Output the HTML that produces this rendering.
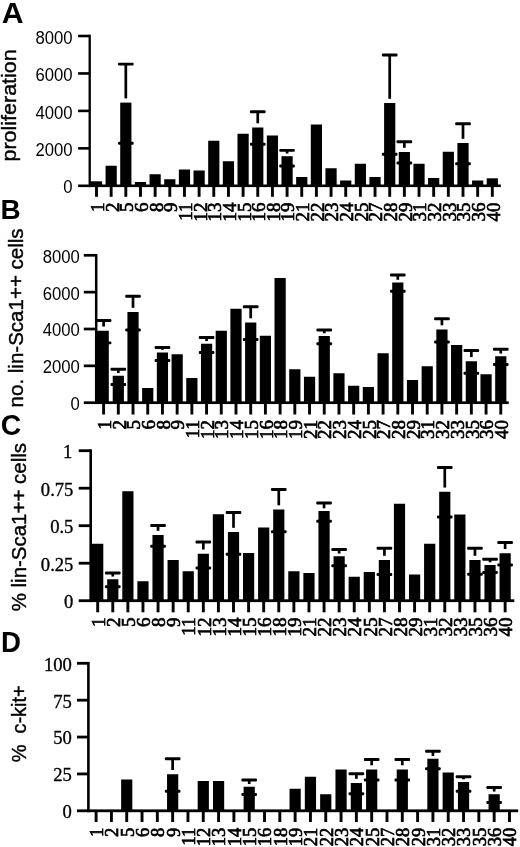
<!DOCTYPE html>
<html lang="en">
<head>
<meta charset="utf-8">
<title>Figure: proliferation, lin-Sca1++ and c-kit+ bar charts</title>
<style>
html,body{margin:0;padding:0;background:#fff;}
body{width:520px;height:847px;overflow:hidden;}
svg{display:block;}
rect{fill:#000;}
text{fill:#000;}
.ys{font-family:"Liberation Sans",sans-serif;font-size:16.7px;}
.yt{font-family:"Liberation Serif",serif;font-size:19.4px;stroke:#000;stroke-width:0.35px;}
.xl{font-family:"Liberation Serif",serif;stroke:#000;stroke-width:0.7px;}
.pl{font-family:"Liberation Sans",sans-serif;font-weight:bold;}
.ttl{font-family:"Liberation Sans",sans-serif;font-size:20.6px;stroke:#000;stroke-width:0.4px;}
</style>
</head>
<body>
<svg width="520" height="847" viewBox="0 0 520 847">
<rect x="0" y="0" width="520" height="847" style="fill:#fff"/>
<g id="figure" style="filter:blur(0.45px)">
<g id="panelA">
<rect x="88.55" y="34.70" width="2.30" height="152.40"/>
<rect x="78.10" y="34.70" width="11.60" height="2.60"/>
<rect x="78.10" y="72.15" width="11.60" height="2.60"/>
<rect x="78.10" y="109.60" width="11.60" height="2.60"/>
<rect x="78.10" y="147.05" width="11.60" height="2.60"/>
<rect x="78.10" y="184.50" width="422.70" height="2.60"/>
<rect x="95.05" y="185.80" width="2.90" height="11.00"/>
<rect x="109.71" y="185.80" width="2.90" height="11.00"/>
<rect x="124.37" y="185.80" width="2.90" height="11.00"/>
<rect x="139.03" y="185.80" width="2.90" height="11.00"/>
<rect x="153.69" y="185.80" width="2.90" height="11.00"/>
<rect x="168.35" y="185.80" width="2.90" height="11.00"/>
<rect x="183.01" y="185.80" width="2.90" height="11.00"/>
<rect x="197.67" y="185.80" width="2.90" height="11.00"/>
<rect x="212.33" y="185.80" width="2.90" height="11.00"/>
<rect x="226.99" y="185.80" width="2.90" height="11.00"/>
<rect x="241.65" y="185.80" width="2.90" height="11.00"/>
<rect x="256.31" y="185.80" width="2.90" height="11.00"/>
<rect x="270.97" y="185.80" width="2.90" height="11.00"/>
<rect x="285.63" y="185.80" width="2.90" height="11.00"/>
<rect x="300.29" y="185.80" width="2.90" height="11.00"/>
<rect x="314.95" y="185.80" width="2.90" height="11.00"/>
<rect x="329.61" y="185.80" width="2.90" height="11.00"/>
<rect x="344.27" y="185.80" width="2.90" height="11.00"/>
<rect x="358.93" y="185.80" width="2.90" height="11.00"/>
<rect x="373.59" y="185.80" width="2.90" height="11.00"/>
<rect x="388.25" y="185.80" width="2.90" height="11.00"/>
<rect x="402.91" y="185.80" width="2.90" height="11.00"/>
<rect x="417.57" y="185.80" width="2.90" height="11.00"/>
<rect x="432.23" y="185.80" width="2.90" height="11.00"/>
<rect x="446.89" y="185.80" width="2.90" height="11.00"/>
<rect x="461.55" y="185.80" width="2.90" height="11.00"/>
<rect x="476.21" y="185.80" width="2.90" height="11.00"/>
<rect x="490.87" y="185.80" width="2.90" height="11.00"/>
<rect x="89.70" y="181.30" width="12.40" height="4.50"/>
<rect x="105.56" y="165.75" width="11.20" height="20.05"/>
<rect x="118.02" y="62.80" width="15.60" height="2.80" rx="1"/>
<rect x="124.47" y="64.20" width="2.70" height="34.20"/>
<rect x="118.02" y="141.85" width="15.60" height="2.80" rx="1"/>
<rect x="120.22" y="102.60" width="11.20" height="83.20"/>
<rect x="134.88" y="182.00" width="11.20" height="3.80"/>
<rect x="149.54" y="174.25" width="11.20" height="11.55"/>
<rect x="164.20" y="179.25" width="11.20" height="6.55"/>
<rect x="178.86" y="169.50" width="11.20" height="16.30"/>
<rect x="193.52" y="170.50" width="11.20" height="15.30"/>
<rect x="208.18" y="140.75" width="11.20" height="45.05"/>
<rect x="222.84" y="161.25" width="11.20" height="24.55"/>
<rect x="237.50" y="133.75" width="11.20" height="52.05"/>
<rect x="249.96" y="110.35" width="15.60" height="2.80" rx="1"/>
<rect x="256.41" y="111.75" width="2.70" height="11.55"/>
<rect x="249.96" y="142.85" width="15.60" height="2.80" rx="1"/>
<rect x="252.16" y="127.50" width="11.20" height="58.30"/>
<rect x="266.82" y="135.50" width="11.20" height="50.30"/>
<rect x="279.28" y="148.95" width="15.60" height="2.80" rx="1"/>
<rect x="285.73" y="150.35" width="2.70" height="3.15"/>
<rect x="279.28" y="164.60" width="15.60" height="2.80" rx="1"/>
<rect x="281.48" y="156.20" width="11.20" height="29.60"/>
<rect x="296.14" y="177.00" width="11.20" height="8.80"/>
<rect x="310.80" y="124.50" width="11.20" height="61.30"/>
<rect x="325.46" y="168.25" width="11.20" height="17.55"/>
<rect x="340.12" y="180.50" width="11.20" height="5.30"/>
<rect x="354.78" y="163.75" width="11.20" height="22.05"/>
<rect x="369.44" y="177.00" width="11.20" height="8.80"/>
<rect x="381.90" y="53.60" width="15.60" height="2.80" rx="1"/>
<rect x="388.35" y="55.00" width="2.70" height="43.80"/>
<rect x="381.90" y="152.85" width="15.60" height="2.80" rx="1"/>
<rect x="384.10" y="103.00" width="11.20" height="82.80"/>
<rect x="396.56" y="140.35" width="15.60" height="2.80" rx="1"/>
<rect x="403.01" y="141.75" width="2.70" height="6.05"/>
<rect x="396.56" y="161.60" width="15.60" height="2.80" rx="1"/>
<rect x="398.76" y="152.00" width="11.20" height="33.80"/>
<rect x="413.42" y="163.75" width="11.20" height="22.05"/>
<rect x="428.08" y="178.00" width="11.20" height="7.80"/>
<rect x="442.74" y="151.75" width="11.20" height="34.05"/>
<rect x="455.20" y="122.35" width="15.60" height="2.80" rx="1"/>
<rect x="461.65" y="123.75" width="2.70" height="15.05"/>
<rect x="455.20" y="162.35" width="15.60" height="2.80" rx="1"/>
<rect x="457.40" y="143.00" width="11.20" height="42.80"/>
<rect x="472.06" y="180.50" width="11.20" height="5.30"/>
<rect x="486.72" y="178.30" width="11.20" height="7.50"/>
<text class="ys" text-anchor="end" transform="translate(72.60,43.60) scale(1,1.13)">8000</text>
<text class="ys" text-anchor="end" transform="translate(72.60,81.05) scale(1,1.13)">6000</text>
<text class="ys" text-anchor="end" transform="translate(72.60,118.50) scale(1,1.13)">4000</text>
<text class="ys" text-anchor="end" transform="translate(72.60,155.95) scale(1,1.13)">2000</text>
<text class="ys" text-anchor="end" transform="translate(72.60,193.40) scale(1,1.13)">0</text>
<text class="xl" font-size="19.5" text-anchor="end" transform="translate(103.90,202.50) rotate(-90) scale(0.97,1)">1</text>
<text class="xl" font-size="19.5" text-anchor="end" transform="translate(118.56,202.50) rotate(-90) scale(0.97,1)">2</text>
<text class="xl" font-size="19.5" text-anchor="end" transform="translate(133.22,202.50) rotate(-90) scale(0.97,1)">5</text>
<text class="xl" font-size="19.5" text-anchor="end" transform="translate(147.88,202.50) rotate(-90) scale(0.97,1)">6</text>
<text class="xl" font-size="19.5" text-anchor="end" transform="translate(162.54,202.50) rotate(-90) scale(0.97,1)">8</text>
<text class="xl" font-size="19.5" text-anchor="end" transform="translate(177.20,202.50) rotate(-90) scale(0.97,1)">9</text>
<text class="xl" font-size="19.5" text-anchor="end" transform="translate(191.86,202.50) rotate(-90) scale(0.97,1)">11</text>
<text class="xl" font-size="19.5" text-anchor="end" transform="translate(206.52,202.50) rotate(-90) scale(0.97,1)">12</text>
<text class="xl" font-size="19.5" text-anchor="end" transform="translate(221.18,202.50) rotate(-90) scale(0.97,1)">13</text>
<text class="xl" font-size="19.5" text-anchor="end" transform="translate(235.84,202.50) rotate(-90) scale(0.97,1)">14</text>
<text class="xl" font-size="19.5" text-anchor="end" transform="translate(250.50,202.50) rotate(-90) scale(0.97,1)">15</text>
<text class="xl" font-size="19.5" text-anchor="end" transform="translate(265.16,202.50) rotate(-90) scale(0.97,1)">16</text>
<text class="xl" font-size="19.5" text-anchor="end" transform="translate(279.82,202.50) rotate(-90) scale(0.97,1)">18</text>
<text class="xl" font-size="19.5" text-anchor="end" transform="translate(294.48,202.50) rotate(-90) scale(0.97,1)">19</text>
<text class="xl" font-size="19.5" text-anchor="end" transform="translate(309.14,202.50) rotate(-90) scale(0.97,1)">21</text>
<text class="xl" font-size="19.5" text-anchor="end" transform="translate(323.80,202.50) rotate(-90) scale(0.97,1)">22</text>
<text class="xl" font-size="19.5" text-anchor="end" transform="translate(338.46,202.50) rotate(-90) scale(0.97,1)">23</text>
<text class="xl" font-size="19.5" text-anchor="end" transform="translate(353.12,202.50) rotate(-90) scale(0.97,1)">24</text>
<text class="xl" font-size="19.5" text-anchor="end" transform="translate(367.78,202.50) rotate(-90) scale(0.97,1)">25</text>
<text class="xl" font-size="19.5" text-anchor="end" transform="translate(382.44,202.50) rotate(-90) scale(0.97,1)">27</text>
<text class="xl" font-size="19.5" text-anchor="end" transform="translate(397.10,202.50) rotate(-90) scale(0.97,1)">28</text>
<text class="xl" font-size="19.5" text-anchor="end" transform="translate(411.76,202.50) rotate(-90) scale(0.97,1)">29</text>
<text class="xl" font-size="19.5" text-anchor="end" transform="translate(426.42,202.50) rotate(-90) scale(0.97,1)">31</text>
<text class="xl" font-size="19.5" text-anchor="end" transform="translate(441.08,202.50) rotate(-90) scale(0.97,1)">32</text>
<text class="xl" font-size="19.5" text-anchor="end" transform="translate(455.74,202.50) rotate(-90) scale(0.97,1)">33</text>
<text class="xl" font-size="19.5" text-anchor="end" transform="translate(470.40,202.50) rotate(-90) scale(0.97,1)">35</text>
<text class="xl" font-size="19.5" text-anchor="end" transform="translate(485.06,202.50) rotate(-90) scale(0.97,1)">36</text>
<text class="xl" font-size="19.5" text-anchor="end" transform="translate(499.72,202.50) rotate(-90) scale(0.97,1)">40</text>
</g>
<g id="panelB">
<rect x="94.95" y="253.95" width="2.50" height="150.10"/>
<rect x="83.80" y="253.95" width="12.40" height="2.70"/>
<rect x="83.80" y="290.80" width="12.40" height="2.70"/>
<rect x="83.80" y="327.65" width="12.40" height="2.70"/>
<rect x="83.80" y="364.50" width="12.40" height="2.70"/>
<rect x="83.80" y="401.35" width="424.95" height="2.70"/>
<rect x="102.15" y="402.70" width="2.90" height="11.80"/>
<rect x="116.86" y="402.70" width="2.90" height="11.80"/>
<rect x="131.57" y="402.70" width="2.90" height="11.80"/>
<rect x="146.28" y="402.70" width="2.90" height="11.80"/>
<rect x="160.99" y="402.70" width="2.90" height="11.80"/>
<rect x="175.70" y="402.70" width="2.90" height="11.80"/>
<rect x="190.41" y="402.70" width="2.90" height="11.80"/>
<rect x="205.12" y="402.70" width="2.90" height="11.80"/>
<rect x="219.83" y="402.70" width="2.90" height="11.80"/>
<rect x="234.54" y="402.70" width="2.90" height="11.80"/>
<rect x="249.25" y="402.70" width="2.90" height="11.80"/>
<rect x="263.96" y="402.70" width="2.90" height="11.80"/>
<rect x="278.67" y="402.70" width="2.90" height="11.80"/>
<rect x="293.38" y="402.70" width="2.90" height="11.80"/>
<rect x="308.09" y="402.70" width="2.90" height="11.80"/>
<rect x="322.80" y="402.70" width="2.90" height="11.80"/>
<rect x="337.51" y="402.70" width="2.90" height="11.80"/>
<rect x="352.22" y="402.70" width="2.90" height="11.80"/>
<rect x="366.93" y="402.70" width="2.90" height="11.80"/>
<rect x="381.64" y="402.70" width="2.90" height="11.80"/>
<rect x="396.35" y="402.70" width="2.90" height="11.80"/>
<rect x="411.06" y="402.70" width="2.90" height="11.80"/>
<rect x="425.77" y="402.70" width="2.90" height="11.80"/>
<rect x="440.48" y="402.70" width="2.90" height="11.80"/>
<rect x="455.19" y="402.70" width="2.90" height="11.80"/>
<rect x="469.90" y="402.70" width="2.90" height="11.80"/>
<rect x="484.61" y="402.70" width="2.90" height="11.80"/>
<rect x="499.32" y="402.70" width="2.90" height="11.80"/>
<rect x="95.80" y="319.10" width="15.60" height="2.80" rx="1"/>
<rect x="102.25" y="320.50" width="2.70" height="6.05"/>
<rect x="95.80" y="341.40" width="15.60" height="2.80" rx="1"/>
<rect x="96.20" y="330.75" width="12.60" height="71.95"/>
<rect x="110.51" y="367.85" width="15.60" height="2.80" rx="1"/>
<rect x="116.96" y="369.25" width="2.70" height="3.80"/>
<rect x="110.51" y="383.10" width="15.60" height="2.80" rx="1"/>
<rect x="112.71" y="375.75" width="11.20" height="26.95"/>
<rect x="125.22" y="294.85" width="15.60" height="2.80" rx="1"/>
<rect x="131.67" y="296.25" width="2.70" height="11.55"/>
<rect x="125.22" y="328.60" width="15.60" height="2.80" rx="1"/>
<rect x="127.42" y="312.00" width="11.20" height="90.70"/>
<rect x="142.13" y="388.00" width="11.20" height="14.70"/>
<rect x="154.64" y="346.10" width="15.60" height="2.80" rx="1"/>
<rect x="161.09" y="347.50" width="2.70" height="2.30"/>
<rect x="154.64" y="359.10" width="15.60" height="2.80" rx="1"/>
<rect x="156.84" y="352.50" width="11.20" height="50.20"/>
<rect x="171.55" y="354.25" width="11.20" height="48.45"/>
<rect x="186.26" y="378.00" width="11.20" height="24.70"/>
<rect x="198.77" y="336.10" width="15.60" height="2.80" rx="1"/>
<rect x="205.22" y="337.50" width="2.70" height="3.55"/>
<rect x="198.77" y="351.10" width="15.60" height="2.80" rx="1"/>
<rect x="200.97" y="343.75" width="11.20" height="58.95"/>
<rect x="215.68" y="330.75" width="11.20" height="71.95"/>
<rect x="230.39" y="308.75" width="11.20" height="93.95"/>
<rect x="242.90" y="305.35" width="15.60" height="2.80" rx="1"/>
<rect x="249.35" y="306.75" width="2.70" height="11.55"/>
<rect x="242.90" y="338.10" width="15.60" height="2.80" rx="1"/>
<rect x="245.10" y="322.50" width="11.20" height="80.20"/>
<rect x="259.81" y="335.75" width="11.20" height="66.95"/>
<rect x="274.52" y="278.00" width="11.20" height="124.70"/>
<rect x="289.23" y="369.25" width="11.20" height="33.45"/>
<rect x="303.94" y="376.75" width="11.20" height="25.95"/>
<rect x="316.45" y="328.60" width="15.60" height="2.80" rx="1"/>
<rect x="322.90" y="330.00" width="2.70" height="3.30"/>
<rect x="316.45" y="342.35" width="15.60" height="2.80" rx="1"/>
<rect x="318.65" y="336.00" width="11.20" height="66.70"/>
<rect x="333.36" y="373.25" width="11.20" height="29.45"/>
<rect x="348.07" y="385.75" width="11.20" height="16.95"/>
<rect x="362.78" y="387.00" width="11.20" height="15.70"/>
<rect x="377.49" y="353.25" width="11.20" height="49.45"/>
<rect x="390.00" y="273.60" width="15.60" height="2.80" rx="1"/>
<rect x="396.45" y="275.00" width="2.70" height="4.80"/>
<rect x="390.00" y="289.85" width="15.60" height="2.80" rx="1"/>
<rect x="392.20" y="282.50" width="11.20" height="120.20"/>
<rect x="406.91" y="380.00" width="11.20" height="22.70"/>
<rect x="421.62" y="366.25" width="11.20" height="36.45"/>
<rect x="434.13" y="317.35" width="15.60" height="2.80" rx="1"/>
<rect x="440.58" y="318.75" width="2.70" height="6.55"/>
<rect x="434.13" y="340.60" width="15.60" height="2.80" rx="1"/>
<rect x="436.33" y="329.50" width="11.20" height="73.20"/>
<rect x="451.04" y="345.00" width="11.20" height="57.70"/>
<rect x="463.55" y="349.10" width="15.60" height="2.80" rx="1"/>
<rect x="470.00" y="350.50" width="2.70" height="6.55"/>
<rect x="463.55" y="371.85" width="15.60" height="2.80" rx="1"/>
<rect x="465.75" y="361.25" width="11.20" height="41.45"/>
<rect x="480.46" y="374.25" width="11.20" height="28.45"/>
<rect x="492.97" y="347.85" width="15.60" height="2.80" rx="1"/>
<rect x="499.42" y="349.25" width="2.70" height="4.30"/>
<rect x="492.97" y="363.10" width="15.60" height="2.80" rx="1"/>
<rect x="495.17" y="356.25" width="11.20" height="46.45"/>
<text class="ys" text-anchor="end" transform="translate(79.80,262.70) scale(1,1.13)">8000</text>
<text class="ys" text-anchor="end" transform="translate(79.80,299.55) scale(1,1.13)">6000</text>
<text class="ys" text-anchor="end" transform="translate(79.80,336.40) scale(1,1.13)">4000</text>
<text class="ys" text-anchor="end" transform="translate(79.80,373.25) scale(1,1.13)">2000</text>
<text class="ys" text-anchor="end" transform="translate(79.80,410.10) scale(1,1.13)">0</text>
<text class="xl" font-size="19.5" text-anchor="end" transform="translate(110.80,420.10) rotate(-90) scale(0.97,1)">1</text>
<text class="xl" font-size="19.5" text-anchor="end" transform="translate(125.51,420.10) rotate(-90) scale(0.97,1)">2</text>
<text class="xl" font-size="19.5" text-anchor="end" transform="translate(140.22,420.10) rotate(-90) scale(0.97,1)">5</text>
<text class="xl" font-size="19.5" text-anchor="end" transform="translate(154.93,420.10) rotate(-90) scale(0.97,1)">6</text>
<text class="xl" font-size="19.5" text-anchor="end" transform="translate(169.64,420.10) rotate(-90) scale(0.97,1)">8</text>
<text class="xl" font-size="19.5" text-anchor="end" transform="translate(184.35,420.10) rotate(-90) scale(0.97,1)">9</text>
<text class="xl" font-size="19.5" text-anchor="end" transform="translate(199.06,420.10) rotate(-90) scale(0.97,1)">11</text>
<text class="xl" font-size="19.5" text-anchor="end" transform="translate(213.77,420.10) rotate(-90) scale(0.97,1)">12</text>
<text class="xl" font-size="19.5" text-anchor="end" transform="translate(228.48,420.10) rotate(-90) scale(0.97,1)">13</text>
<text class="xl" font-size="19.5" text-anchor="end" transform="translate(243.19,420.10) rotate(-90) scale(0.97,1)">14</text>
<text class="xl" font-size="19.5" text-anchor="end" transform="translate(257.90,420.10) rotate(-90) scale(0.97,1)">15</text>
<text class="xl" font-size="19.5" text-anchor="end" transform="translate(272.61,420.10) rotate(-90) scale(0.97,1)">16</text>
<text class="xl" font-size="19.5" text-anchor="end" transform="translate(287.32,420.10) rotate(-90) scale(0.97,1)">18</text>
<text class="xl" font-size="19.5" text-anchor="end" transform="translate(302.03,420.10) rotate(-90) scale(0.97,1)">19</text>
<text class="xl" font-size="19.5" text-anchor="end" transform="translate(316.74,420.10) rotate(-90) scale(0.97,1)">21</text>
<text class="xl" font-size="19.5" text-anchor="end" transform="translate(331.45,420.10) rotate(-90) scale(0.97,1)">22</text>
<text class="xl" font-size="19.5" text-anchor="end" transform="translate(346.16,420.10) rotate(-90) scale(0.97,1)">23</text>
<text class="xl" font-size="19.5" text-anchor="end" transform="translate(360.87,420.10) rotate(-90) scale(0.97,1)">24</text>
<text class="xl" font-size="19.5" text-anchor="end" transform="translate(375.58,420.10) rotate(-90) scale(0.97,1)">25</text>
<text class="xl" font-size="19.5" text-anchor="end" transform="translate(390.29,420.10) rotate(-90) scale(0.97,1)">27</text>
<text class="xl" font-size="19.5" text-anchor="end" transform="translate(405.00,420.10) rotate(-90) scale(0.97,1)">28</text>
<text class="xl" font-size="19.5" text-anchor="end" transform="translate(419.71,420.10) rotate(-90) scale(0.97,1)">29</text>
<text class="xl" font-size="19.5" text-anchor="end" transform="translate(434.42,420.10) rotate(-90) scale(0.97,1)">31</text>
<text class="xl" font-size="19.5" text-anchor="end" transform="translate(449.13,420.10) rotate(-90) scale(0.97,1)">32</text>
<text class="xl" font-size="19.5" text-anchor="end" transform="translate(463.84,420.10) rotate(-90) scale(0.97,1)">33</text>
<text class="xl" font-size="19.5" text-anchor="end" transform="translate(478.55,420.10) rotate(-90) scale(0.97,1)">35</text>
<text class="xl" font-size="19.5" text-anchor="end" transform="translate(493.26,420.10) rotate(-90) scale(0.97,1)">36</text>
<text class="xl" font-size="19.5" text-anchor="end" transform="translate(507.97,420.10) rotate(-90) scale(0.97,1)">40</text>
</g>
<g id="panelC">
<rect x="89.40" y="449.30" width="2.60" height="152.80"/>
<rect x="78.70" y="449.30" width="12.00" height="2.80"/>
<rect x="78.70" y="486.80" width="12.00" height="2.80"/>
<rect x="78.70" y="524.30" width="12.00" height="2.80"/>
<rect x="78.70" y="561.80" width="12.00" height="2.80"/>
<rect x="78.70" y="599.30" width="435.60" height="2.80"/>
<rect x="96.25" y="600.70" width="2.90" height="11.60"/>
<rect x="111.34" y="600.70" width="2.90" height="11.60"/>
<rect x="126.43" y="600.70" width="2.90" height="11.60"/>
<rect x="141.52" y="600.70" width="2.90" height="11.60"/>
<rect x="156.61" y="600.70" width="2.90" height="11.60"/>
<rect x="171.70" y="600.70" width="2.90" height="11.60"/>
<rect x="186.79" y="600.70" width="2.90" height="11.60"/>
<rect x="201.88" y="600.70" width="2.90" height="11.60"/>
<rect x="216.97" y="600.70" width="2.90" height="11.60"/>
<rect x="232.06" y="600.70" width="2.90" height="11.60"/>
<rect x="247.15" y="600.70" width="2.90" height="11.60"/>
<rect x="262.24" y="600.70" width="2.90" height="11.60"/>
<rect x="277.33" y="600.70" width="2.90" height="11.60"/>
<rect x="292.42" y="600.70" width="2.90" height="11.60"/>
<rect x="307.51" y="600.70" width="2.90" height="11.60"/>
<rect x="322.60" y="600.70" width="2.90" height="11.60"/>
<rect x="337.69" y="600.70" width="2.90" height="11.60"/>
<rect x="352.78" y="600.70" width="2.90" height="11.60"/>
<rect x="367.87" y="600.70" width="2.90" height="11.60"/>
<rect x="382.96" y="600.70" width="2.90" height="11.60"/>
<rect x="398.05" y="600.70" width="2.90" height="11.60"/>
<rect x="413.14" y="600.70" width="2.90" height="11.60"/>
<rect x="428.23" y="600.70" width="2.90" height="11.60"/>
<rect x="443.32" y="600.70" width="2.90" height="11.60"/>
<rect x="458.41" y="600.70" width="2.90" height="11.60"/>
<rect x="473.50" y="600.70" width="2.90" height="11.60"/>
<rect x="488.59" y="600.70" width="2.90" height="11.60"/>
<rect x="503.68" y="600.70" width="2.90" height="11.60"/>
<rect x="90.70" y="543.75" width="12.60" height="56.95"/>
<rect x="104.99" y="571.60" width="15.60" height="2.80" rx="1"/>
<rect x="111.44" y="573.00" width="2.70" height="3.55"/>
<rect x="104.99" y="585.35" width="15.60" height="2.80" rx="1"/>
<rect x="107.19" y="579.25" width="11.20" height="21.45"/>
<rect x="122.28" y="491.25" width="11.20" height="109.45"/>
<rect x="137.37" y="581.25" width="11.20" height="19.45"/>
<rect x="150.26" y="524.10" width="15.60" height="2.80" rx="1"/>
<rect x="156.71" y="525.50" width="2.70" height="5.30"/>
<rect x="150.26" y="544.85" width="15.60" height="2.80" rx="1"/>
<rect x="152.46" y="535.00" width="11.20" height="65.70"/>
<rect x="167.55" y="560.00" width="11.20" height="40.70"/>
<rect x="182.64" y="571.25" width="11.20" height="29.45"/>
<rect x="195.53" y="540.60" width="15.60" height="2.80" rx="1"/>
<rect x="201.98" y="542.00" width="2.70" height="7.55"/>
<rect x="195.53" y="566.60" width="15.60" height="2.80" rx="1"/>
<rect x="197.73" y="553.75" width="11.20" height="46.95"/>
<rect x="212.82" y="514.25" width="11.20" height="86.45"/>
<rect x="225.71" y="511.10" width="15.60" height="2.80" rx="1"/>
<rect x="232.16" y="512.50" width="2.70" height="15.30"/>
<rect x="225.71" y="552.85" width="15.60" height="2.80" rx="1"/>
<rect x="227.91" y="532.00" width="11.20" height="68.70"/>
<rect x="243.00" y="553.00" width="11.20" height="47.70"/>
<rect x="258.09" y="527.50" width="11.20" height="73.20"/>
<rect x="270.98" y="488.10" width="15.60" height="2.80" rx="1"/>
<rect x="277.43" y="489.50" width="2.70" height="15.80"/>
<rect x="270.98" y="530.35" width="15.60" height="2.80" rx="1"/>
<rect x="273.18" y="509.50" width="11.20" height="91.20"/>
<rect x="288.27" y="571.25" width="11.20" height="29.45"/>
<rect x="303.36" y="573.00" width="11.20" height="27.70"/>
<rect x="316.25" y="501.60" width="15.60" height="2.80" rx="1"/>
<rect x="322.70" y="503.00" width="2.70" height="5.30"/>
<rect x="316.25" y="519.85" width="15.60" height="2.80" rx="1"/>
<rect x="318.45" y="511.00" width="11.20" height="89.70"/>
<rect x="331.34" y="548.10" width="15.60" height="2.80" rx="1"/>
<rect x="337.79" y="549.50" width="2.70" height="4.05"/>
<rect x="331.34" y="564.35" width="15.60" height="2.80" rx="1"/>
<rect x="333.54" y="556.25" width="11.20" height="44.45"/>
<rect x="348.63" y="576.75" width="11.20" height="23.95"/>
<rect x="363.72" y="572.00" width="11.20" height="28.70"/>
<rect x="376.61" y="546.85" width="15.60" height="2.80" rx="1"/>
<rect x="383.06" y="548.25" width="2.70" height="7.55"/>
<rect x="376.61" y="573.10" width="15.60" height="2.80" rx="1"/>
<rect x="378.81" y="560.00" width="11.20" height="40.70"/>
<rect x="393.90" y="503.75" width="11.20" height="96.95"/>
<rect x="408.99" y="574.50" width="11.20" height="26.20"/>
<rect x="424.08" y="543.75" width="11.20" height="56.95"/>
<rect x="436.97" y="466.10" width="15.60" height="2.80" rx="1"/>
<rect x="443.42" y="467.50" width="2.70" height="20.05"/>
<rect x="436.97" y="515.60" width="15.60" height="2.80" rx="1"/>
<rect x="439.17" y="491.75" width="11.20" height="108.95"/>
<rect x="454.26" y="514.50" width="11.20" height="86.20"/>
<rect x="467.15" y="546.85" width="15.60" height="2.80" rx="1"/>
<rect x="473.60" y="548.25" width="2.70" height="7.55"/>
<rect x="467.15" y="572.85" width="15.60" height="2.80" rx="1"/>
<rect x="469.35" y="560.00" width="11.20" height="40.70"/>
<rect x="482.24" y="557.85" width="15.60" height="2.80" rx="1"/>
<rect x="488.69" y="559.25" width="2.70" height="3.05"/>
<rect x="482.24" y="571.10" width="15.60" height="2.80" rx="1"/>
<rect x="484.44" y="565.00" width="11.20" height="35.70"/>
<rect x="497.33" y="541.10" width="15.60" height="2.80" rx="1"/>
<rect x="503.78" y="542.50" width="2.70" height="6.55"/>
<rect x="497.33" y="563.60" width="15.60" height="2.80" rx="1"/>
<rect x="499.53" y="553.25" width="11.20" height="47.45"/>
<text class="yt" text-anchor="end" transform="translate(72.40,458.00) scale(0.96,1)">1</text>
<text class="yt" text-anchor="end" transform="translate(73.40,495.50) scale(0.96,1)">0.75</text>
<text class="yt" text-anchor="end" transform="translate(73.40,533.00) scale(0.96,1)">0.5</text>
<text class="yt" text-anchor="end" transform="translate(73.40,570.50) scale(0.96,1)">0.25</text>
<text class="yt" text-anchor="end" transform="translate(73.40,608.00) scale(0.96,1)">0</text>
<text class="xl" font-size="19.7" text-anchor="end" transform="translate(104.90,617.40) rotate(-90) scale(0.97,1)">1</text>
<text class="xl" font-size="19.7" text-anchor="end" transform="translate(119.99,617.40) rotate(-90) scale(0.97,1)">2</text>
<text class="xl" font-size="19.7" text-anchor="end" transform="translate(135.08,617.40) rotate(-90) scale(0.97,1)">5</text>
<text class="xl" font-size="19.7" text-anchor="end" transform="translate(150.17,617.40) rotate(-90) scale(0.97,1)">6</text>
<text class="xl" font-size="19.7" text-anchor="end" transform="translate(165.26,617.40) rotate(-90) scale(0.97,1)">8</text>
<text class="xl" font-size="19.7" text-anchor="end" transform="translate(180.35,617.40) rotate(-90) scale(0.97,1)">9</text>
<text class="xl" font-size="19.7" text-anchor="end" transform="translate(195.44,617.40) rotate(-90) scale(0.97,1)">11</text>
<text class="xl" font-size="19.7" text-anchor="end" transform="translate(210.53,617.40) rotate(-90) scale(0.97,1)">12</text>
<text class="xl" font-size="19.7" text-anchor="end" transform="translate(225.62,617.40) rotate(-90) scale(0.97,1)">13</text>
<text class="xl" font-size="19.7" text-anchor="end" transform="translate(240.71,617.40) rotate(-90) scale(0.97,1)">14</text>
<text class="xl" font-size="19.7" text-anchor="end" transform="translate(255.80,617.40) rotate(-90) scale(0.97,1)">15</text>
<text class="xl" font-size="19.7" text-anchor="end" transform="translate(270.89,617.40) rotate(-90) scale(0.97,1)">16</text>
<text class="xl" font-size="19.7" text-anchor="end" transform="translate(285.98,617.40) rotate(-90) scale(0.97,1)">18</text>
<text class="xl" font-size="19.7" text-anchor="end" transform="translate(301.07,617.40) rotate(-90) scale(0.97,1)">19</text>
<text class="xl" font-size="19.7" text-anchor="end" transform="translate(316.16,617.40) rotate(-90) scale(0.97,1)">21</text>
<text class="xl" font-size="19.7" text-anchor="end" transform="translate(331.25,617.40) rotate(-90) scale(0.97,1)">22</text>
<text class="xl" font-size="19.7" text-anchor="end" transform="translate(346.34,617.40) rotate(-90) scale(0.97,1)">23</text>
<text class="xl" font-size="19.7" text-anchor="end" transform="translate(361.43,617.40) rotate(-90) scale(0.97,1)">24</text>
<text class="xl" font-size="19.7" text-anchor="end" transform="translate(376.52,617.40) rotate(-90) scale(0.97,1)">25</text>
<text class="xl" font-size="19.7" text-anchor="end" transform="translate(391.61,617.40) rotate(-90) scale(0.97,1)">27</text>
<text class="xl" font-size="19.7" text-anchor="end" transform="translate(406.70,617.40) rotate(-90) scale(0.97,1)">28</text>
<text class="xl" font-size="19.7" text-anchor="end" transform="translate(421.79,617.40) rotate(-90) scale(0.97,1)">29</text>
<text class="xl" font-size="19.7" text-anchor="end" transform="translate(436.88,617.40) rotate(-90) scale(0.97,1)">31</text>
<text class="xl" font-size="19.7" text-anchor="end" transform="translate(451.97,617.40) rotate(-90) scale(0.97,1)">32</text>
<text class="xl" font-size="19.7" text-anchor="end" transform="translate(467.06,617.40) rotate(-90) scale(0.97,1)">33</text>
<text class="xl" font-size="19.7" text-anchor="end" transform="translate(482.15,617.40) rotate(-90) scale(0.97,1)">35</text>
<text class="xl" font-size="19.7" text-anchor="end" transform="translate(497.24,617.40) rotate(-90) scale(0.97,1)">36</text>
<text class="xl" font-size="19.7" text-anchor="end" transform="translate(512.33,617.40) rotate(-90) scale(0.97,1)">40</text>
</g>
<g id="panelD">
<rect x="87.10" y="661.90" width="2.60" height="150.30"/>
<rect x="77.00" y="661.90" width="11.40" height="2.80"/>
<rect x="77.00" y="698.78" width="11.40" height="2.80"/>
<rect x="77.00" y="735.66" width="11.40" height="2.80"/>
<rect x="77.00" y="772.54" width="11.40" height="2.80"/>
<rect x="77.00" y="809.40" width="441.20" height="2.80"/>
<rect x="94.65" y="810.80" width="2.90" height="11.20"/>
<rect x="109.96" y="810.80" width="2.90" height="11.20"/>
<rect x="125.27" y="810.80" width="2.90" height="11.20"/>
<rect x="140.58" y="810.80" width="2.90" height="11.20"/>
<rect x="155.89" y="810.80" width="2.90" height="11.20"/>
<rect x="171.20" y="810.80" width="2.90" height="11.20"/>
<rect x="186.51" y="810.80" width="2.90" height="11.20"/>
<rect x="201.82" y="810.80" width="2.90" height="11.20"/>
<rect x="217.13" y="810.80" width="2.90" height="11.20"/>
<rect x="232.44" y="810.80" width="2.90" height="11.20"/>
<rect x="247.75" y="810.80" width="2.90" height="11.20"/>
<rect x="263.06" y="810.80" width="2.90" height="11.20"/>
<rect x="278.37" y="810.80" width="2.90" height="11.20"/>
<rect x="293.68" y="810.80" width="2.90" height="11.20"/>
<rect x="308.99" y="810.80" width="2.90" height="11.20"/>
<rect x="324.30" y="810.80" width="2.90" height="11.20"/>
<rect x="339.61" y="810.80" width="2.90" height="11.20"/>
<rect x="354.92" y="810.80" width="2.90" height="11.20"/>
<rect x="370.23" y="810.80" width="2.90" height="11.20"/>
<rect x="385.54" y="810.80" width="2.90" height="11.20"/>
<rect x="400.85" y="810.80" width="2.90" height="11.20"/>
<rect x="416.16" y="810.80" width="2.90" height="11.20"/>
<rect x="431.47" y="810.80" width="2.90" height="11.20"/>
<rect x="446.78" y="810.80" width="2.90" height="11.20"/>
<rect x="462.09" y="810.80" width="2.90" height="11.20"/>
<rect x="477.40" y="810.80" width="2.90" height="11.20"/>
<rect x="492.71" y="810.80" width="2.90" height="11.20"/>
<rect x="508.02" y="810.80" width="2.90" height="11.20"/>
<rect x="121.12" y="779.50" width="11.20" height="31.30"/>
<rect x="164.85" y="757.35" width="15.60" height="2.80" rx="1"/>
<rect x="171.30" y="758.75" width="2.70" height="11.30"/>
<rect x="164.85" y="789.85" width="15.60" height="2.80" rx="1"/>
<rect x="167.05" y="774.25" width="11.20" height="36.55"/>
<rect x="197.67" y="781.00" width="11.20" height="29.80"/>
<rect x="212.98" y="781.00" width="11.20" height="29.80"/>
<rect x="241.40" y="778.60" width="15.60" height="2.80" rx="1"/>
<rect x="247.85" y="780.00" width="2.70" height="4.05"/>
<rect x="241.40" y="793.10" width="15.60" height="2.80" rx="1"/>
<rect x="243.60" y="786.75" width="11.20" height="24.05"/>
<rect x="289.53" y="788.75" width="11.20" height="22.05"/>
<rect x="304.84" y="776.75" width="11.20" height="34.05"/>
<rect x="320.15" y="794.25" width="11.20" height="16.55"/>
<rect x="335.46" y="769.50" width="11.20" height="41.30"/>
<rect x="348.57" y="772.35" width="15.60" height="2.80" rx="1"/>
<rect x="355.02" y="773.75" width="2.70" height="5.05"/>
<rect x="348.57" y="792.35" width="15.60" height="2.80" rx="1"/>
<rect x="350.77" y="783.00" width="11.20" height="27.80"/>
<rect x="363.88" y="758.10" width="15.60" height="2.80" rx="1"/>
<rect x="370.33" y="759.50" width="2.70" height="5.80"/>
<rect x="363.88" y="778.60" width="15.60" height="2.80" rx="1"/>
<rect x="366.08" y="769.50" width="11.20" height="41.30"/>
<rect x="394.50" y="758.10" width="15.60" height="2.80" rx="1"/>
<rect x="400.95" y="759.50" width="2.70" height="5.80"/>
<rect x="394.50" y="778.60" width="15.60" height="2.80" rx="1"/>
<rect x="396.70" y="769.50" width="11.20" height="41.30"/>
<rect x="425.12" y="749.85" width="15.60" height="2.80" rx="1"/>
<rect x="431.57" y="751.25" width="2.70" height="4.80"/>
<rect x="425.12" y="767.35" width="15.60" height="2.80" rx="1"/>
<rect x="427.32" y="758.75" width="11.20" height="52.05"/>
<rect x="442.63" y="772.50" width="11.20" height="38.30"/>
<rect x="455.74" y="775.35" width="15.60" height="2.80" rx="1"/>
<rect x="462.19" y="776.75" width="2.70" height="2.55"/>
<rect x="455.74" y="789.85" width="15.60" height="2.80" rx="1"/>
<rect x="457.94" y="782.00" width="11.20" height="28.80"/>
<rect x="486.36" y="786.10" width="15.60" height="2.80" rx="1"/>
<rect x="492.81" y="787.50" width="2.70" height="4.05"/>
<rect x="486.36" y="801.10" width="15.60" height="2.80" rx="1"/>
<rect x="488.56" y="794.25" width="11.20" height="16.55"/>
<text class="yt" text-anchor="end" transform="translate(71.80,670.70) scale(0.96,1)">100</text>
<text class="yt" text-anchor="end" transform="translate(71.80,707.58) scale(0.96,1)">75</text>
<text class="yt" text-anchor="end" transform="translate(71.80,744.46) scale(0.96,1)">50</text>
<text class="yt" text-anchor="end" transform="translate(71.80,781.34) scale(0.96,1)">25</text>
<text class="yt" text-anchor="end" transform="translate(71.80,818.20) scale(0.96,1)">0</text>
<text class="xl" font-size="19.2" text-anchor="end" transform="translate(103.00,827.60) rotate(-90) scale(0.97,1)">1</text>
<text class="xl" font-size="19.2" text-anchor="end" transform="translate(118.31,827.60) rotate(-90) scale(0.97,1)">2</text>
<text class="xl" font-size="19.2" text-anchor="end" transform="translate(133.62,827.60) rotate(-90) scale(0.97,1)">5</text>
<text class="xl" font-size="19.2" text-anchor="end" transform="translate(148.93,827.60) rotate(-90) scale(0.97,1)">6</text>
<text class="xl" font-size="19.2" text-anchor="end" transform="translate(164.24,827.60) rotate(-90) scale(0.97,1)">8</text>
<text class="xl" font-size="19.2" text-anchor="end" transform="translate(179.55,827.60) rotate(-90) scale(0.97,1)">9</text>
<text class="xl" font-size="19.2" text-anchor="end" transform="translate(194.86,827.60) rotate(-90) scale(0.97,1)">11</text>
<text class="xl" font-size="19.2" text-anchor="end" transform="translate(210.17,827.60) rotate(-90) scale(0.97,1)">12</text>
<text class="xl" font-size="19.2" text-anchor="end" transform="translate(225.48,827.60) rotate(-90) scale(0.97,1)">13</text>
<text class="xl" font-size="19.2" text-anchor="end" transform="translate(240.79,827.60) rotate(-90) scale(0.97,1)">14</text>
<text class="xl" font-size="19.2" text-anchor="end" transform="translate(256.10,827.60) rotate(-90) scale(0.97,1)">15</text>
<text class="xl" font-size="19.2" text-anchor="end" transform="translate(271.41,827.60) rotate(-90) scale(0.97,1)">16</text>
<text class="xl" font-size="19.2" text-anchor="end" transform="translate(286.72,827.60) rotate(-90) scale(0.97,1)">18</text>
<text class="xl" font-size="19.2" text-anchor="end" transform="translate(302.03,827.60) rotate(-90) scale(0.97,1)">19</text>
<text class="xl" font-size="19.2" text-anchor="end" transform="translate(317.34,827.60) rotate(-90) scale(0.97,1)">21</text>
<text class="xl" font-size="19.2" text-anchor="end" transform="translate(332.65,827.60) rotate(-90) scale(0.97,1)">22</text>
<text class="xl" font-size="19.2" text-anchor="end" transform="translate(347.96,827.60) rotate(-90) scale(0.97,1)">23</text>
<text class="xl" font-size="19.2" text-anchor="end" transform="translate(363.27,827.60) rotate(-90) scale(0.97,1)">24</text>
<text class="xl" font-size="19.2" text-anchor="end" transform="translate(378.58,827.60) rotate(-90) scale(0.97,1)">25</text>
<text class="xl" font-size="19.2" text-anchor="end" transform="translate(393.89,827.60) rotate(-90) scale(0.97,1)">27</text>
<text class="xl" font-size="19.2" text-anchor="end" transform="translate(409.20,827.60) rotate(-90) scale(0.97,1)">28</text>
<text class="xl" font-size="19.2" text-anchor="end" transform="translate(424.51,827.60) rotate(-90) scale(0.97,1)">29</text>
<text class="xl" font-size="19.2" text-anchor="end" transform="translate(439.82,827.60) rotate(-90) scale(0.97,1)">31</text>
<text class="xl" font-size="19.2" text-anchor="end" transform="translate(455.13,827.60) rotate(-90) scale(0.97,1)">32</text>
<text class="xl" font-size="19.2" text-anchor="end" transform="translate(470.44,827.60) rotate(-90) scale(0.97,1)">33</text>
<text class="xl" font-size="19.2" text-anchor="end" transform="translate(485.75,827.60) rotate(-90) scale(0.97,1)">35</text>
<text class="xl" font-size="19.2" text-anchor="end" transform="translate(501.06,827.60) rotate(-90) scale(0.97,1)">36</text>
<text class="xl" font-size="19.2" text-anchor="end" transform="translate(516.37,827.60) rotate(-90) scale(0.97,1)">40</text>
</g>
<text class="pl" font-size="28.9" transform="translate(1.7,22.6) scale(1.045,1)">A</text>
<text class="pl" font-size="28.2" transform="translate(0.5,218.6) scale(0.99,1)">B</text>
<text class="pl" font-size="29.85" transform="translate(0.65,435.05) scale(0.95,1)">C</text>
<text class="pl" font-size="29.1" transform="translate(1.1,652.0) scale(0.95,1)">D</text>
<text class="ttl" xml:space="preserve" textLength="112.2" lengthAdjust="spacingAndGlyphs" transform="translate(16.4,161.5) rotate(-90)">proliferation</text>
<text class="ttl" xml:space="preserve" textLength="179.0" lengthAdjust="spacingAndGlyphs" transform="translate(23.0,407.4) rotate(-90)">no. lin-Sca1++ cells</text>
<text class="ttl" xml:space="preserve" textLength="168.3" lengthAdjust="spacingAndGlyphs" transform="translate(26.4,611.3) rotate(-90)">% lin-Sca1++ cells</text>
<text class="ttl" xml:space="preserve" textLength="76.9" lengthAdjust="spacingAndGlyphs" transform="translate(26.1,762.3) rotate(-90)">%  c-kit+</text>
</g>
</svg>
</body>
</html>
